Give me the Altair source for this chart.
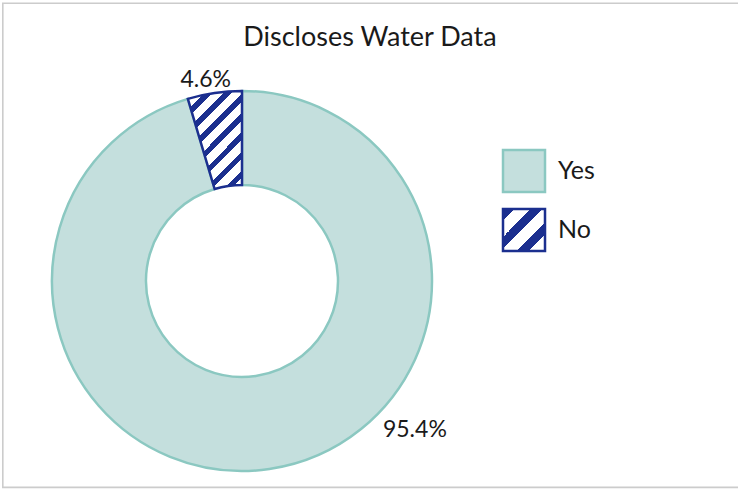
import altair as alt
import pandas as pd

# ---- data ----
title_text = "Discloses Water Data"
categories = ["Yes", "No"]
values = [95.4, 4.6]
value_labels = ["95.4%", "4.6%"]
stack_order = [0, 1]

df = pd.DataFrame({"label": categories, "value": values, "text": value_labels, "idx": stack_order})
title_df = pd.DataFrame({"t": [title_text]})
frame_df = pd.DataFrame({"k": [0]})

# ---- styles ----
FONT = "Lato"
TEXT = "#1a1a1a"
TEAL_FILL = "#c4dfdd"
TEAL_STROKE = "#8bc8c1"
NAVY = "#1b2f8f"
CX, CY = 242, 281


def stripes(n, navy_frac, x2, y2):
    stops = []
    for i in range(n):
        a = i / n
        b = (i + navy_frac) / n
        c = (i + 1) / n
        stops += [
            alt.GradientStop(offset=a, color=NAVY),
            alt.GradientStop(offset=b, color=NAVY),
            alt.GradientStop(offset=b, color="white"),
            alt.GradientStop(offset=c, color="white"),
        ]
    return alt.LinearGradient(gradient="linear", stops=stops, x1=0, y1=0, x2=x2, y2=y2)


wedge_grad = stripes(8, 0.4, 0.66, 1.19)
legend_grad = stripes(3, 0.4, 1, 1)

is_no = alt.datum.label == "No"

frame = alt.Chart(frame_df).mark_rect(filled=False, stroke="#cccccc", strokeWidth=1.6).encode(
    x=alt.value(2.8), x2=alt.value(800), y=alt.value(3.3), y2=alt.value(487.4)
)

title = alt.Chart(title_df).mark_text(
    font=FONT, fontSize=27, color=TEXT, align="center", baseline="middle"
).encode(x=alt.value(370), y=alt.value(38), text="t:N")

arc = alt.Chart(df).mark_arc(strokeWidth=2.5).encode(
    theta=alt.Theta("value:Q", stack=True),
    order=alt.Order("idx:Q"),
    color=alt.condition(is_no, alt.value(wedge_grad), alt.value(TEAL_FILL)),
    stroke=alt.condition(is_no, alt.value(NAVY), alt.value(TEAL_STROKE)),
    x=alt.value(CX), y=alt.value(CY),
    radius=alt.value(190), radius2=alt.value(96),
)

no_label = alt.Chart(df).mark_text(
    font=FONT, fontSize=23, color=TEXT, dx=-7, align="center", baseline="middle"
).encode(
    theta=alt.Theta("value:Q", stack=True),
    order=alt.Order("idx:Q"),
    radius=alt.value(203),
    x=alt.value(CX), y=alt.value(CY),
    text="text:N",
    opacity=alt.condition(is_no, alt.value(1), alt.value(0)),
)

yes_label = alt.Chart(df).transform_filter(alt.datum.label == "Yes").mark_text(
    font=FONT, fontSize=23, color=TEXT, align="center", baseline="middle"
).encode(
    theta=alt.value(2.281), radius=alt.value(228),
    x=alt.value(CX), y=alt.value(CY),
    text="text:N",
)

leg_y = alt.Y("label:N", scale=alt.Scale(domain=categories, range=[171, 230], padding=0), axis=None)

leg_sq = alt.Chart(df).mark_point(shape="square", filled=True, size=1764, strokeWidth=2.5, opacity=1).encode(
    x=alt.value(524), y=leg_y,
    color=alt.condition(is_no, alt.value(legend_grad), alt.value(TEAL_FILL)),
    stroke=alt.condition(is_no, alt.value(NAVY), alt.value(TEAL_STROKE)),
)

leg_txt = alt.Chart(df).mark_text(
    font=FONT, fontSize=25, color=TEXT, align="left", baseline="middle"
).encode(x=alt.value(558), y=leg_y, text="label:N")

chart = alt.layer(frame, title, arc, no_label, yes_label, leg_sq, leg_txt).properties(
    width=738, height=489, padding=0, autosize="none"
).configure_view(stroke=None)

chart.save("out.html", embed_options={"renderer": "svg", "actions": False})
